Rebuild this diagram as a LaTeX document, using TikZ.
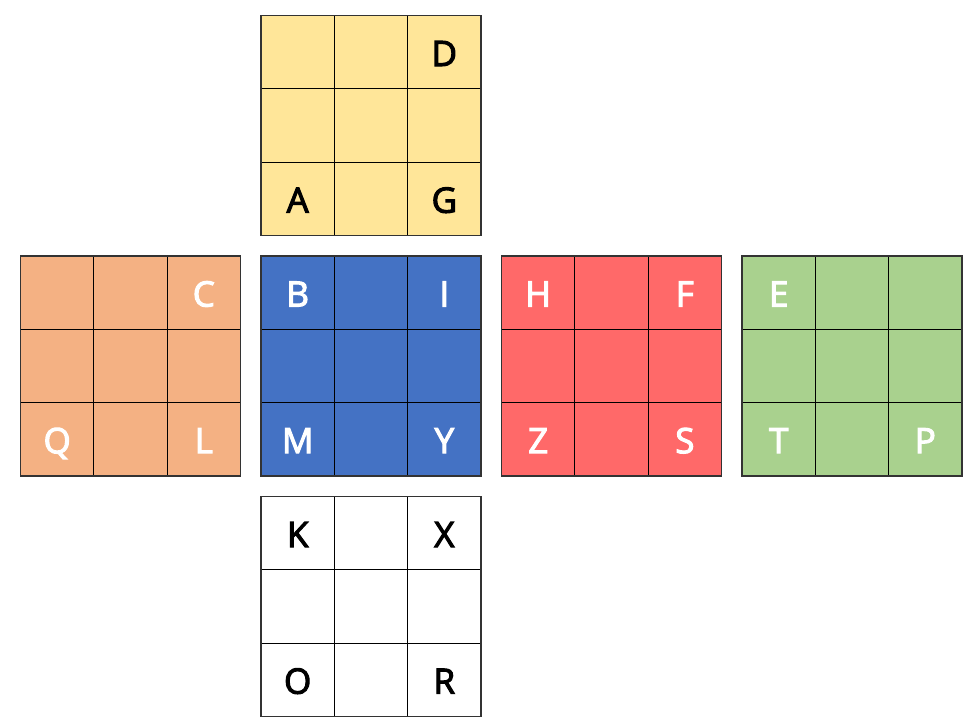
\documentclass[tikz,border=0pt]{standalone}
\usepackage{fontspec}
\setmainfont{Open Sans}
\newfontfamily\lblfont{Open Sans}[FakeBold=3]
\definecolor{cyel}{HTML}{FFE699}
\definecolor{cora}{HTML}{F4B183}
\definecolor{cblu}{HTML}{4472C4}
\definecolor{cred}{HTML}{FF6969}
\definecolor{cgrn}{HTML}{A9D18E}
\definecolor{cedge}{HTML}{333333}
\tikzset{
  gridline/.style={line width=1pt, black},
  faceedge/.style={line width=1.3pt, cedge},
  lbl/.style={font=\lblfont\fontsize{35}{35}\selectfont, inner sep=0pt, text height=26pt, text depth=0pt, anchor=center},
}
\newcommand{\cubeface}[4]{% x0, y0, fill, name
  \fill[#3] (#1,#2) rectangle ++(220,220);
  \draw[gridline] (#1+73.33,#2) -- ++(0,220) (#1+146.67,#2) -- ++(0,220)
                  (#1,#2+73.33) -- ++(220,0) (#1,#2+146.67) -- ++(220,0);
  \draw[faceedge] (#1,#2) rectangle ++(220,220);
  \coordinate (#4) at (#1,#2);
}
\newcommand{\facelabel}[6]{% name, x0, y0, col, row, text/color
  \node[lbl, text=#6] (#1) at (#2+36.67+#4*73.33, #3+37.5+#5*73.33) {#1};
}
\begin{document}
\begin{tikzpicture}[x=1pt,y=-1pt]
\useasboundingbox (0,0) rectangle (978,724);
\cubeface{261}{15.5}{cyel}{ftop}
\cubeface{20.5}{256}{cora}{fleft}
\cubeface{261}{256}{cblu}{fcenter}
\cubeface{501.5}{256}{cred}{fright}
\cubeface{742}{256}{cgrn}{fback}
\cubeface{261}{496.5}{white}{fbottom}
% top
\facelabel{D}{261}{15.5}{2}{0}{black}
\facelabel{A}{261}{15.5}{0}{2}{black}
\facelabel{G}{261}{15.5}{2}{2}{black}
% left
\facelabel{C}{20.5}{256}{2}{0}{white}
\facelabel{Q}{20.5}{256}{0}{2}{white}
\facelabel{L}{20.5}{256}{2}{2}{white}
% center
\facelabel{B}{261}{256}{0}{0}{white}
\facelabel{I}{261}{256}{2}{0}{white}
\facelabel{M}{261}{256}{0}{2}{white}
\facelabel{Y}{261}{256}{2}{2}{white}
% right
\facelabel{H}{501.5}{256}{0}{0}{white}
\facelabel{F}{501.5}{256}{2}{0}{white}
\facelabel{Z}{501.5}{256}{0}{2}{white}
\facelabel{S}{501.5}{256}{2}{2}{white}
% back
\facelabel{E}{742}{256}{0}{0}{white}
\facelabel{T}{742}{256}{0}{2}{white}
\facelabel{P}{742}{256}{2}{2}{white}
% bottom
\facelabel{K}{261}{496.5}{0}{0}{black}
\facelabel{X}{261}{496.5}{2}{0}{black}
\facelabel{O}{261}{496.5}{0}{2}{black}
\facelabel{R}{261}{496.5}{2}{2}{black}
\end{tikzpicture}
\end{document}
